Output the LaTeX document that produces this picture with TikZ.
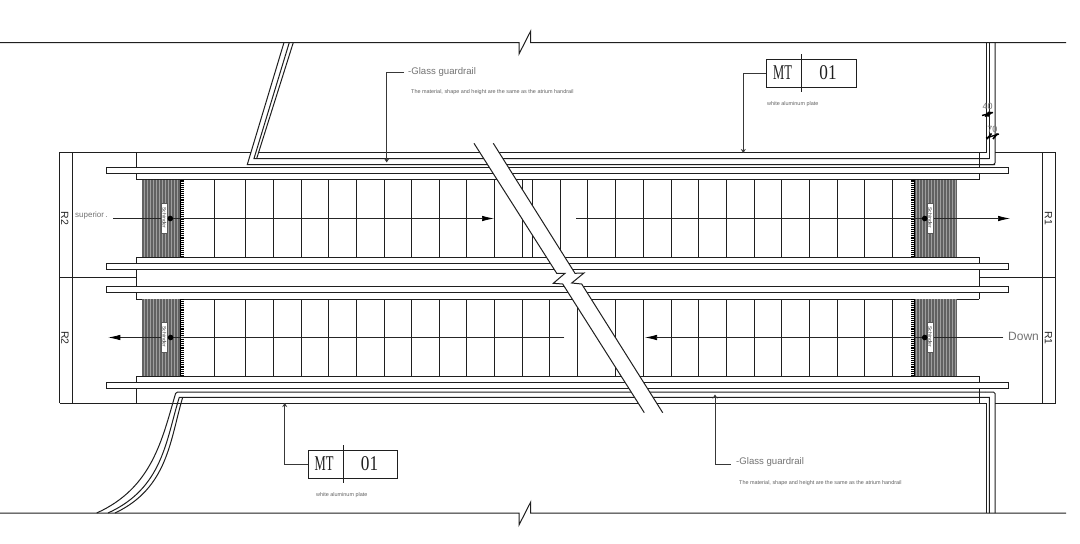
\documentclass[tikz,border=0pt]{standalone}
\usepackage{fontspec}
\setmainfont{Liberation Sans}
\newfontfamily\mtfont{Liberation Serif}
\usetikzlibrary{arrows.meta}
\tikzset{
  ln/.style={draw=black!88,line width=1pt},
  leader/.style={draw=black!78,line width=0.95pt},
  smalltip/.style={-{Stealth[length=4pt,width=5pt]}},
  flow/.style={draw=black!85,line width=0.7pt},
  flowtip/.style={-{Latex[length=12pt,width=5.5pt,black]}},
  note/.style={text=black!55,font=\fontsize{9.6}{9.6}\selectfont,inner sep=0,anchor=west},
  tiny/.style={text=black!62,font=\fontsize{5.45}{6}\selectfont,inner sep=0,anchor=west},
  dimtext/.style={text=black!55,font=\fontsize{9}{9}\selectfont,inner sep=0},
  rtag/.style={text=black!85,font=\fontsize{10.5}{10.5}\selectfont,inner sep=0,rotate=-90},
  mtbox/.style={draw=black!88,line width=1pt,minimum width=89.4pt,minimum height=27.4pt,inner sep=0,anchor=north west},
  mttext/.style={text=black!88,font=\mtfont\fontsize{21}{21}\selectfont,inner sep=0},
  brand/.style={draw=black!65,fill=white,line width=0.5pt,inner sep=0,minimum width=30pt,minimum height=5.6pt,rotate=-90,text=black!80,font=\fontsize{5}{5}\selectfont},
  dot/.style={circle,fill=black,inner sep=0,minimum size=5.6pt},
  tread/.style={fill=black!62,draw=none},
}
\begin{document}
\begin{tikzpicture}[x=1pt,y=-1pt]
\useasboundingbox (0,0) rectangle (1080,544);
\fill[white] (0,0) rectangle (1080,544);

% floor edges with break marks
\draw[ln] (0,42.5) -- (519,42.5) -- (519,54) -- (530.7,31) -- (530.7,42.5) -- (1066,42.5);
\draw[ln] (0,513) -- (519,513) -- (519,525) -- (530.7,502) -- (530.7,513) -- (1066,513);

% outer boxes
\draw[ln] (136,152.5) -- (59.5,152.5) -- (59.5,403.3);
\draw[ln] (72,152.5) -- (72,403.3);
\draw[ln] (59,277.5) -- (136,277.5);
\draw[ln] (59.5,403.3) -- (986.7,403.3);
\draw[ln] (995,152.5) -- (1055,152.5) -- (1055,403.3) -- (995,403.3);
\draw[ln] (1042.3,152.5) -- (1042.3,403.3);
\draw[ln] (979,277.5) -- (1055,277.5);

% ends of the balustrades
\draw[ln] (136,152.5) -- (136,167) (136,173.5) -- (136,179.5);
\draw[ln] (136,257) -- (136,263.3) (136,269.5) -- (136,286.7) (136,292.7) -- (136,299);
\draw[ln] (136,376) -- (136,382.3) (136,388.7) -- (136,403.3);
\draw[ln] (979,152.5) -- (979,167) (979,173.5) -- (979,179.5);
\draw[ln] (979,257) -- (979,263.3) (979,269.5) -- (979,286.7) (979,292.7) -- (979,299);
\draw[ln] (979,376) -- (979,382.3) (979,388.7) -- (979,403.3);

% step edges
\draw[ln] (136,179.5) -- (979,179.5) (136,257) -- (979,257);
\draw[ln] (136,299) -- (979,299) (136,376) -- (979,376);

% handrails
\draw[ln] (106.5,167) rectangle (1008,173.5);
\draw[ln] (106.5,263.3) rectangle (1008,269.5);
\draw[ln] (106.5,286.7) rectangle (1008,292.7);
\draw[ln] (106.5,382.3) rectangle (1008,388.7);

% treads
\foreach \x in {214.3,245.7,273.3,301,328.7,356.4,384,411.7,439.4,466.5,494.3,522,532.7,560.3,587.7,615.3,643,671,698.5,726,754,781.5,809,837,864.5,892.3}
  \draw[ln] (\x,179.5) -- (\x,257);
\foreach \x in {214.3,245.7,273.3,301,328.7,356.4,384,411.7,439.4,466.5,494.3,522,549.3,577,615.7,643.3,671,698.7,726,754,781.5,809,837,864.5,892.3}
  \draw[ln] (\x,299) -- (\x,376);

% comb plates
\foreach \y/\yy in {179.5/257,299/376}{
  \fill[tread] (142.3,\y) rectangle (180.7,\yy);
  \fill[tread] (914.3,\y) rectangle (957.3,\yy);
  \foreach \k in {0,1,...,12}
    \draw[black!38,line width=0.6pt] ({144+3*\k},\y) -- ({144+3*\k},\yy);
  \foreach \k in {0,1,...,13}
    \draw[black!38,line width=0.6pt] ({916+3*\k},\y) -- ({916+3*\k},\yy);
  \draw[black,line width=0.9pt] (180.9,\y) -- (180.9,\yy) (914.1,\y) -- (914.1,\yy);
  \draw[black,line width=2.6pt,dash pattern=on 0.8pt off 1.1pt] (182.4,\y) -- (182.4,\yy);
  \draw[black,line width=2.6pt,dash pattern=on 0.8pt off 1.1pt] (912.6,\y) -- (912.6,\yy);
}

% direction lines
\coordinate (upA) at (113,218.5);
\coordinate (upB) at (494,218.5);
\coordinate (upC) at (576,218.5);
\coordinate (upD) at (1010,218.5);
\coordinate (dnA) at (1003.3,337.5);
\coordinate (dnB) at (645,337.5);
\coordinate (dnC) at (564.3,337.5);
\coordinate (dnD) at (108.3,337.5);
\draw[flow,flowtip] (upA) -- (upB);
\draw[flow,flowtip] (upC) -- (upD);
\draw[flow,flowtip] (dnA) -- (dnB);
\draw[flow,flowtip] (dnC) -- (dnD);

% brand labels and dots
\node[brand] (b1) at (164.5,218) {Schindler};
\node[brand] (b2) at (930.2,218) {Schindler};
\node[brand] (b3) at (164.5,337) {Schindler};
\node[brand] (b4) at (930.2,337) {Schindler};
\node[dot] (d1) at (170.3,218.5) {};
\node[dot] (d2) at (924.7,218.5) {};
\node[dot] (d3) at (170.6,337.5) {};
\node[dot] (d4) at (924.7,337.5) {};

% glass guardrail lines
\draw[ln] (284,42.5) -- (247.3,164.5) -- (995,164.5);
\draw[ln] (289.3,42.5) -- (254,158.5) -- (989.3,158.5);
\draw[ln] (293.3,42.5) -- (256.7,158.5);
\draw[ln] (136,152.5) -- (250.5,152.5) (258.6,152.5) -- (986.7,152.5);
\draw[ln] (986.7,42.5) -- (986.7,152.5);
\draw[ln] (989.3,42.5) -- (989.3,158.5);
\draw[ln,rounded corners=1.5pt] (995,42.5) -- (995,164.5) -- (979,164.5);

\draw[ln,rounded corners=1.5pt] (96.7,513) .. controls (152,488) and (162,440) .. (176,392) -- (985,392);
\draw[ln,rounded corners=1.5pt] (985,392) -- (995,392) -- (995,513);
\draw[ln] (108,513) .. controls (163,488) and (166,440) .. (179.3,397.3) -- (989.3,397.3) -- (989.3,513);
\draw[ln] (115,513) .. controls (168,488) and (170,440) .. (182.7,397.3);
\draw[ln] (986.7,403.3) -- (986.7,513);

% diagonal break band
\fill[white] (474,143.3) -- (556.7,273.3) -- (565,273.3) -- (553.3,283.3) -- (562.7,284) -- (644.3,412.7)
  -- (662.7,412.7) -- (581.7,284) -- (571.7,283) -- (584,273) -- (575,273.3) -- (493.3,143.3) -- cycle;
\draw[ln] (474,143.3) -- (556.7,273.3) -- (565,273.3) -- (553.3,283.3) -- (562.7,284) -- (644.3,412.7);
\draw[ln] (493.3,143.3) -- (575,273.3) -- (584,273) -- (571.7,283) -- (581.7,284) -- (662.7,412.7);

% dimension marks
\node[dimtext] (dim40) at (987.7,106.7) {40};
\node[dimtext] (dim70) at (992.3,129) {70};
\draw[black,line width=1.4pt] (982,115.5) -- (993,112.5);
\draw[black,line width=1.6pt] (985,116.5) -- (989,112) (987.5,116.5) -- (991.5,112);
\draw[black,line width=1.4pt] (986,138) -- (999,134);
\draw[black,line width=1.6pt] (987,139) -- (991.5,133.5) (993,139) -- (997.5,133.5);

% side tags
\node[rtag] (r2a) at (64.7,218.5) {R2};
\node[rtag] (r2b) at (65,338) {R2};
\node[rtag] (r1a) at (1048.5,218.5) {R1};
\node[rtag] (r1b) at (1048.5,338) {R1};
\node[note,font=\fontsize{8}{8}\selectfont] (sup) at (75,215.5) {superior\,.};
\node[note,font=\fontsize{12}{12}\selectfont] (down) at (1008,336) {Down};

% notes
\node[note] (g1) at (408,72) {-Glass guardrail};
\node[tiny] (g1s) at (411,92) {The material, shape and height are the same as the atrium handrail};
\node[note] (g2) at (736,462) {-Glass guardrail};
\node[tiny] (g2s) at (739,483) {The material, shape and height are the same as the atrium handrail};
\node[tiny] (w1) at (767,104) {white aluminum plate};
\node[tiny] (w2) at (316,495) {white aluminum plate};

% MT tags
\node[mtbox] (mt1) at (766.3,59.3) {};
\draw[ln] (801.3,54) -- (801.3,92);
\node[mttext,xscale=.6] at (782.5,73) {MT};
\node[mttext,xscale=.82] at (828,73) {01};
\node[mtbox] (mt2) at (307.7,450.3) {};
\draw[ln] (343,445) -- (343,482.7);
\node[mttext,xscale=.6] at (324,464) {MT};
\node[mttext,xscale=.82] at (369.5,464) {01};

% leaders
\coordinate (t1) at (386.7,162.5);
\coordinate (t2) at (743.3,153);
\coordinate (t3) at (284.7,403);
\coordinate (t4) at (715,394.5);
\coordinate (e1) at (404,72.7);
\coordinate (e4) at (730.7,464);
\draw[leader,smalltip] (e1) -| (t1);
\draw[leader,smalltip] (mt1.west) -| (t2);
\draw[leader,smalltip] (mt2.west) -| (t3);
\draw[leader,smalltip] (e4) -| (t4);
\end{tikzpicture}
\end{document}
